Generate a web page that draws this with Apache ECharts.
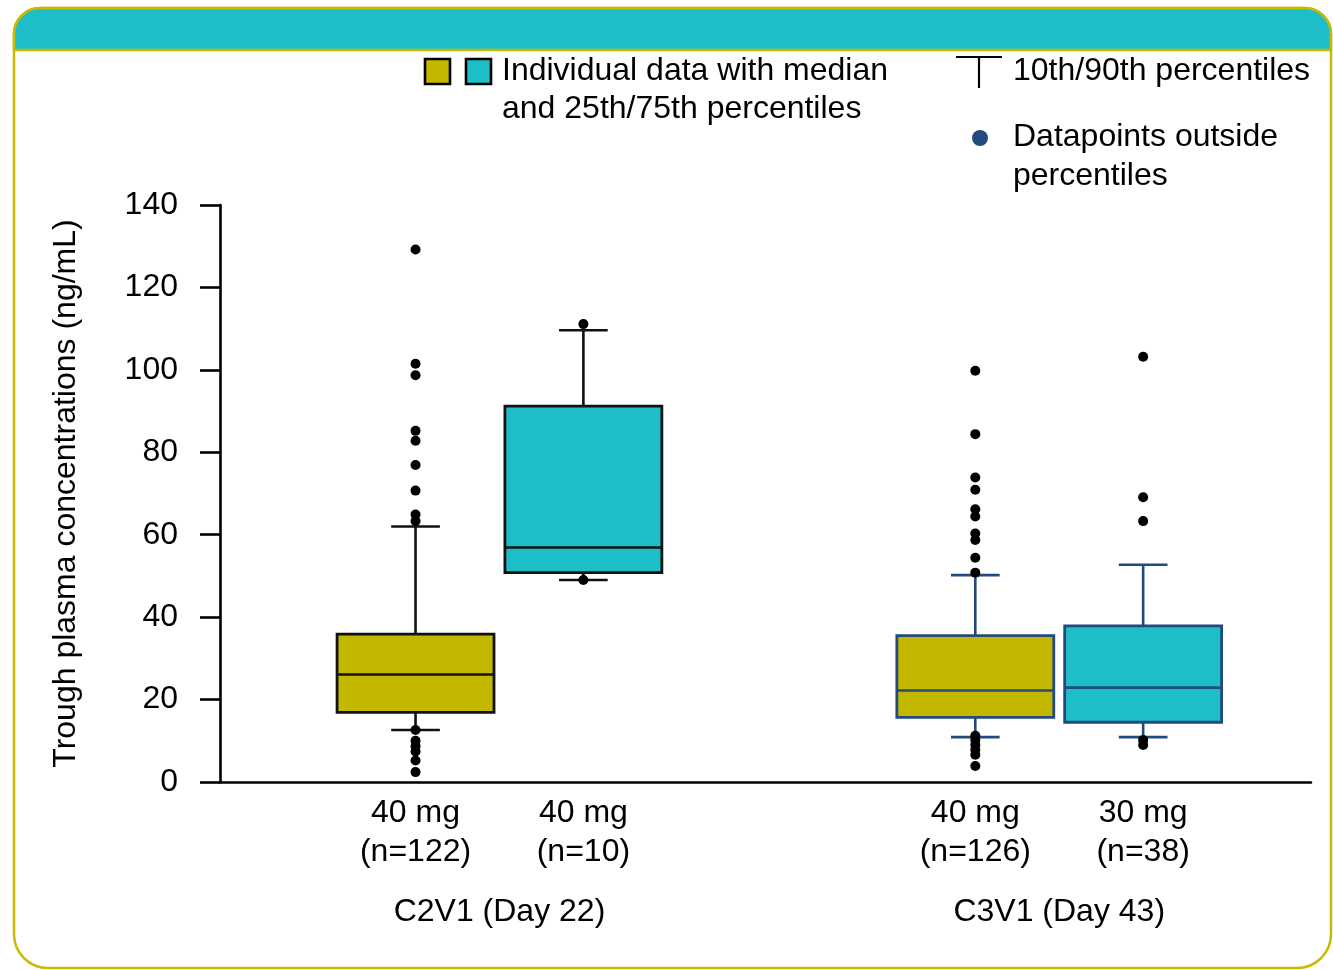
<!DOCTYPE html>
<html>
<head>
<meta charset="utf-8">
<script src="https://cdn.jsdelivr.net/npm/echarts@6/dist/echarts.min.js"></script>
<style>
html,body{margin:0;padding:0;background:#fff;}
#chart{width:1333px;height:970px;}
</style>
</head>
<body>
<div id="chart"></div>
<script>
// ---------- DATA ----------
const doses = ['40 mg', '40 mg', '40 mg', '30 mg'];
const counts = ['(n=122)', '(n=10)', '(n=126)', '(n=38)'];
const visits = ['C2V1 (Day 22)', 'C3V1 (Day 43)'];
const visitOfBox = [0, 0, 1, 1];
const p10 = [12.6, 49.0, 10.9, 10.9];
const q1 = [16.9, 50.8, 15.7, 14.5];
const median = [26.1, 56.9, 22.2, 22.9];
const q3 = [35.9, 91.2, 35.5, 37.9];
const p90 = [62.0, 109.6, 50.2, 52.7];
const outliers = [
  [129.2, 101.5, 98.7, 85.2, 82.8, 76.9, 70.7, 64.9, 63.3, 12.6, 10.0, 8.7, 7.4, 5.2, 2.4],
  [111.1, 49.0],
  [99.8, 84.4, 73.9, 70.9, 66.2, 64.4, 60.3, 58.7, 54.4, 50.8, 11.2, 10.2, 9.0, 7.8, 6.6, 3.9],
  [103.2, 69.1, 63.3, 10.2, 9.0]
];
const yTickMin = 0, yTickMax = 140, yTickStep = 20;

// ---------- LAYOUT / STYLE ----------
const slot = [1.165, 2.165, 4.5, 5.5];      // horizontal slot of each box on hidden x axis
const xMax = 6.5;
const boxW = 0.935, capW = 0.29;
const OLIVE = '#C3B700', TEAL = '#1EBEC8', NAVY = '#234A7D', FRAME = '#C9BA00';
const fills = [OLIVE, TEAL, OLIVE, TEAL];
const strokes = ['#111', '#111', NAVY, NAVY];
const FONT = '"Liberation Sans", Arial, sans-serif';
const FS = 32;

const boxData = doses.map((d, i) => [slot[i], p10[i], q1[i], median[i], q3[i], p90[i], i]);
const scatterData = [];
outliers.forEach((arr, i) => arr.forEach(v => scatterData.push([slot[i], v])));
const labelData = doses.map((d, i) => [slot[i], 0, i]);
const groupData = visits.map((v, g) => {
  const xs = slot.filter((s, i) => visitOfBox[i] === g);
  return [(Math.min(...xs) + Math.max(...xs)) / 2, 0, g];
});

function renderBox(params, api) {
  const x = api.value(0), i = api.value(6);
  const w = api.size([boxW, 0])[0], cw = api.size([capW, 0])[0];
  const c = api.coord([x, 0])[0];
  const yp10 = api.coord([x, api.value(1)])[1];
  const yq1 = api.coord([x, api.value(2)])[1];
  const ymed = api.coord([x, api.value(3)])[1];
  const yq3 = api.coord([x, api.value(4)])[1];
  const yp90 = api.coord([x, api.value(5)])[1];
  const ls = { stroke: strokes[i], lineWidth: 2.6, fill: null };
  return {
    type: 'group',
    children: [
      { type: 'line', shape: { x1: c, y1: yq3, x2: c, y2: yp90 }, style: ls },
      { type: 'line', shape: { x1: c, y1: yq1, x2: c, y2: yp10 }, style: ls },
      { type: 'line', shape: { x1: c - cw / 2, y1: yp90, x2: c + cw / 2, y2: yp90 }, style: ls },
      { type: 'line', shape: { x1: c - cw / 2, y1: yp10, x2: c + cw / 2, y2: yp10 }, style: ls },
      { type: 'rect', shape: { x: c - w / 2, y: yq3, width: w, height: yq1 - yq3 },
        style: { fill: fills[i], stroke: strokes[i], lineWidth: 2.8 } },
      { type: 'line', shape: { x1: c - w / 2, y1: ymed, x2: c + w / 2, y2: ymed }, style: ls }
    ]
  };
}

function renderLabel(params, api) {
  const i = api.value(2);
  const p = api.coord([api.value(0), api.value(1)]);
  const st = { fill: '#000', font: FS + 'px ' + FONT, textAlign: 'center', textVerticalAlign: 'middle' };
  return {
    type: 'group',
    children: [
      { type: 'text', x: p[0], y: p[1] + 31, style: Object.assign({ text: doses[i] }, st) },
      { type: 'text', x: p[0], y: p[1] + 70, style: Object.assign({ text: counts[i] }, st) }
    ]
  };
}

function renderGroup(params, api) {
  const g = api.value(2);
  const p = api.coord([api.value(0), api.value(1)]);
  return {
    type: 'text', x: p[0], y: p[1] + 130,
    style: { text: visits[g], fill: '#000', font: FS + 'px ' + FONT, textAlign: 'center', textVerticalAlign: 'middle' }
  };
}

const chart = echarts.init(document.getElementById('chart'), null, { renderer: 'canvas' });
chart.setOption({
  animation: false,
  backgroundColor: '#fff',
  textStyle: { fontFamily: FONT },
  grid: { left: 220, right: 22, top: 205, bottom: 188, containLabel: false },
  xAxis: {
    type: 'value', min: 0, max: xMax,
    axisLine: { show: true, onZero: false, lineStyle: { color: '#000', width: 2.6 } },
    axisTick: { show: false }, axisLabel: { show: false }, splitLine: { show: false }
  },
  yAxis: {
    type: 'value', min: yTickMin, max: yTickMax, interval: yTickStep,
    name: 'Trough plasma concentrations (ng/mL)',
    nameLocation: 'middle', nameRotate: 90, nameGap: 138,
    nameTextStyle: { fontSize: FS, color: '#000', fontFamily: FONT },
    axisLine: { show: true, lineStyle: { color: '#000', width: 2.6 } },
    axisTick: { show: true, inside: false, length: 20, lineStyle: { color: '#000', width: 2.6 } },
    axisLabel: { fontSize: FS, color: '#000', margin: 42, fontFamily: FONT },
    splitLine: { show: false }
  },
  series: [
    { type: 'custom', renderItem: renderBox, data: boxData, clip: false, z: 2,
      encode: { x: 0, y: [1, 2, 3, 4, 5] } },
    { type: 'scatter', data: scatterData, symbol: 'circle', symbolSize: 10,
      itemStyle: { color: '#000', opacity: 1 }, z: 5, clip: false },
    { type: 'custom', renderItem: renderLabel, data: labelData, clip: false, encode: { x: 0, y: 1 } },
    { type: 'custom', renderItem: renderGroup, data: groupData, clip: false, encode: { x: 0, y: 1 } }
  ],
  graphic: [
    { type: 'rect', z: -10, shape: { x: 14, y: 8, width: 1317, height: 960, r: [26, 26, 34, 34] },
      style: { fill: '#fff', stroke: FRAME, lineWidth: 2.5 } },
    { type: 'rect', z: -9, shape: { x: 14, y: 8, width: 1317, height: 42, r: [26, 26, 0, 0] },
      style: { fill: TEAL, stroke: FRAME, lineWidth: 2.5 } },
    // legend: boxes
    { type: 'rect', z: 50, shape: { x: 425, y: 59, width: 25, height: 25 },
      style: { fill: OLIVE, stroke: '#000', lineWidth: 2.6 } },
    { type: 'rect', z: 50, shape: { x: 466, y: 59, width: 25, height: 25 },
      style: { fill: TEAL, stroke: '#000', lineWidth: 2.6 } },
    { type: 'text', z: 50, x: 502, y: 71,
      style: { text: 'Individual data with median', font: FS + 'px ' + FONT, fill: '#000', textVerticalAlign: 'middle' } },
    { type: 'text', z: 50, x: 502, y: 109,
      style: { text: 'and 25th/75th percentiles', font: FS + 'px ' + FONT, fill: '#000', textVerticalAlign: 'middle' } },
    // legend: percentile whisker
    { type: 'line', z: 50, shape: { x1: 956, y1: 57, x2: 1002, y2: 57 }, style: { stroke: '#000', lineWidth: 2.2 } },
    { type: 'line', z: 50, shape: { x1: 979, y1: 57, x2: 979, y2: 88 }, style: { stroke: '#000', lineWidth: 2.2 } },
    { type: 'text', z: 50, x: 1013, y: 71,
      style: { text: '10th/90th percentiles', font: FS + 'px ' + FONT, fill: '#000', textVerticalAlign: 'middle' } },
    // legend: datapoints
    { type: 'circle', z: 50, shape: { cx: 980, cy: 138, r: 8 }, style: { fill: NAVY } },
    { type: 'text', z: 50, x: 1013, y: 137,
      style: { text: 'Datapoints outside', font: FS + 'px ' + FONT, fill: '#000', textVerticalAlign: 'middle' } },
    { type: 'text', z: 50, x: 1013, y: 176,
      style: { text: 'percentiles', font: FS + 'px ' + FONT, fill: '#000', textVerticalAlign: 'middle' } }
  ]
});
</script>
</body>
</html>
